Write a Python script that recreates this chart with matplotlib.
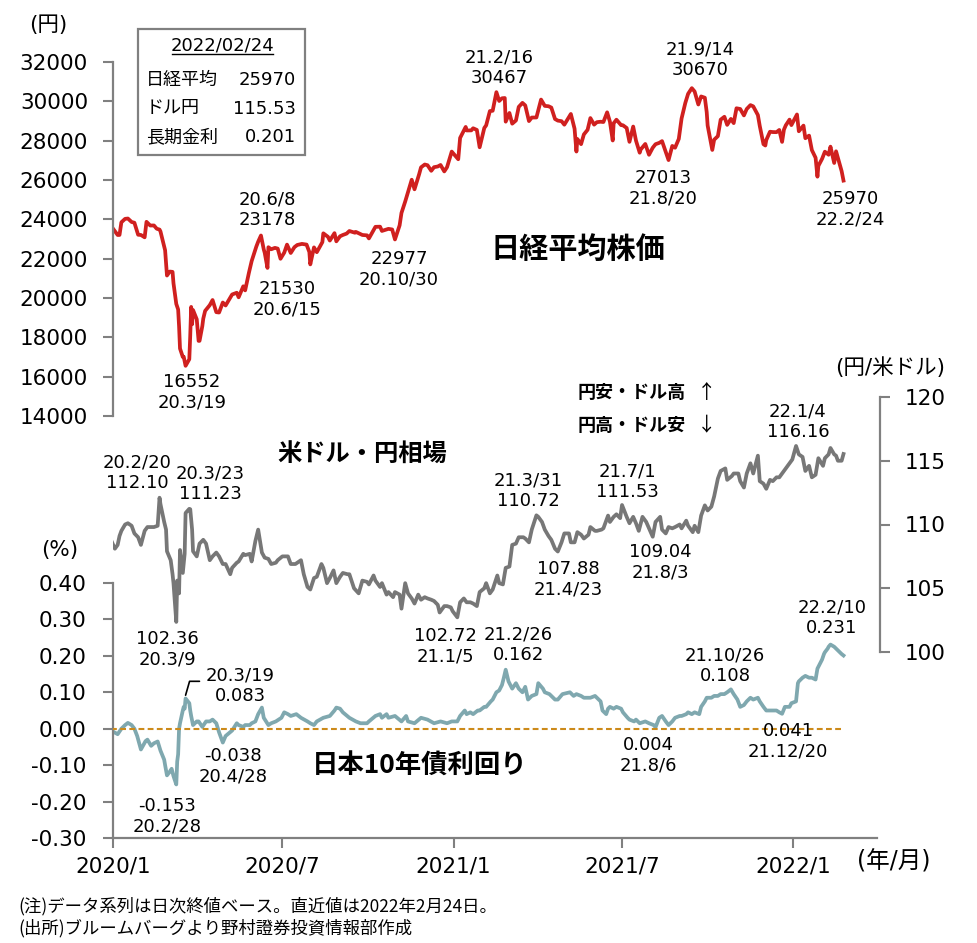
import numpy as np
import pandas as pd
import matplotlib
matplotlib.use("Agg")
import matplotlib.pyplot as plt
from matplotlib.patches import Rectangle
from matplotlib.lines import Line2D

plt.rcParams["font.family"] = ["DejaVu Sans", "Noto Sans CJK JP"]
JP = ["Noto Sans CJK JP", "DejaVu Sans"]

RED, GRAY, TEAL = "#D0201F", "#777777", "#7FA8AF"
ZERO, AXIS = "#CC8A1A", "#808080"

# ---------------- data ----------------
nikkei_dates = [
    "2019-12-30", "2020-01-06", "2020-01-08", "2020-01-10", "2020-01-14", "2020-01-17", "2020-01-21", "2020-01-24", "2020-01-28", "2020-01-31",
    "2020-02-04", "2020-02-06", "2020-02-10", "2020-02-14", "2020-02-17", "2020-02-20", "2020-02-21", "2020-02-25", "2020-02-26", "2020-02-28",
    "2020-03-02", "2020-03-05", "2020-03-06", "2020-03-09", "2020-03-11", "2020-03-12", "2020-03-13", "2020-03-16", "2020-03-17", "2020-03-19", "2020-03-23", "2020-03-24", "2020-03-25", "2020-03-26", "2020-03-27", "2020-03-31",
    "2020-04-02", "2020-04-03", "2020-04-06", "2020-04-07", "2020-04-09", "2020-04-14", "2020-04-17", "2020-04-21", "2020-04-24", "2020-04-28",
    "2020-05-01", "2020-05-08", "2020-05-13", "2020-05-15", "2020-05-20", "2020-05-22", "2020-05-26", "2020-05-29",
    "2020-06-03", "2020-06-05", "2020-06-08", "2020-06-11", "2020-06-12", "2020-06-15", "2020-06-16", "2020-06-19", "2020-06-23", "2020-06-26", "2020-06-29",
    "2020-07-03", "2020-07-06", "2020-07-10", "2020-07-14", "2020-07-17", "2020-07-22", "2020-07-27", "2020-07-30", "2020-07-31",
    "2020-08-04", "2020-08-07", "2020-08-13", "2020-08-14", "2020-08-19", "2020-08-21", "2020-08-26", "2020-08-28",
    "2020-09-01", "2020-09-04", "2020-09-08", "2020-09-11", "2020-09-17", "2020-09-18", "2020-09-25", "2020-09-30",
    "2020-10-02", "2020-10-09", "2020-10-14", "2020-10-16", "2020-10-23", "2020-10-27", "2020-10-30",
    "2020-11-04", "2020-11-06", "2020-11-10", "2020-11-13", "2020-11-17", "2020-11-20", "2020-11-25", "2020-11-27",
    "2020-12-01", "2020-12-04", "2020-12-08", "2020-12-11", "2020-12-15", "2020-12-18", "2020-12-22", "2020-12-25", "2020-12-30",
    "2021-01-06", "2021-01-08", "2021-01-14", "2021-01-15", "2021-01-20", "2021-01-22", "2021-01-26", "2021-01-29",
    "2021-02-03", "2021-02-05", "2021-02-09", "2021-02-12", "2021-02-16", "2021-02-19", "2021-02-22", "2021-02-25", "2021-02-26",
    "2021-03-02", "2021-03-05", "2021-03-09", "2021-03-12", "2021-03-16", "2021-03-19", "2021-03-23", "2021-03-26", "2021-03-31",
    "2021-04-05", "2021-04-09", "2021-04-13", "2021-04-16", "2021-04-20", "2021-04-23", "2021-04-27", "2021-04-30",
    "2021-05-07", "2021-05-11", "2021-05-13", "2021-05-14", "2021-05-18", "2021-05-21", "2021-05-25", "2021-05-28",
    "2021-06-01", "2021-06-04", "2021-06-08", "2021-06-11", "2021-06-15", "2021-06-18", "2021-06-21", "2021-06-22", "2021-06-25", "2021-06-30",
    "2021-07-02", "2021-07-06", "2021-07-09", "2021-07-13", "2021-07-16", "2021-07-20", "2021-07-21", "2021-07-26", "2021-07-30",
    "2021-08-03", "2021-08-06", "2021-08-10", "2021-08-13", "2021-08-17", "2021-08-20", "2021-08-24", "2021-08-27", "2021-08-31",
    "2021-09-03", "2021-09-07", "2021-09-10", "2021-09-14", "2021-09-17", "2021-09-21", "2021-09-24", "2021-09-28", "2021-09-30",
    "2021-10-01", "2021-10-06", "2021-10-08", "2021-10-12", "2021-10-15", "2021-10-19", "2021-10-22", "2021-10-26", "2021-10-29",
    "2021-11-01", "2021-11-05", "2021-11-09", "2021-11-12", "2021-11-16", "2021-11-19", "2021-11-24", "2021-11-26", "2021-11-30",
    "2021-12-02", "2021-12-03", "2021-12-07", "2021-12-10", "2021-12-14", "2021-12-17", "2021-12-20", "2021-12-22", "2021-12-24", "2021-12-28", "2021-12-30",
    "2022-01-05", "2022-01-07", "2022-01-12", "2022-01-14", "2022-01-18", "2022-01-21", "2022-01-25", "2022-01-27", "2022-01-28",
    "2022-02-01", "2022-02-04", "2022-02-08", "2022-02-10", "2022-02-14", "2022-02-16", "2022-02-18", "2022-02-22", "2022-02-24",
]
nikkei_values = [
    23657, 23204, 23205, 23850, 24025, 24041, 23865, 23827, 23216, 23205,
    23085, 23873, 23686, 23688, 23523, 23479, 23387, 22605, 22426, 21143,
    21344, 21329, 20750, 19699, 19416, 18560, 17431, 17002, 17011, 16552, 16888, 18092, 19546, 18665, 19389, 18917,
    17819, 17820, 18576, 18950, 19345, 19638, 19897, 19280, 19262, 19771,
    19619, 20179, 20267, 20037, 20595, 20388, 21271, 21877,
    22613, 22863, 23178, 22473, 22305, 21530, 22582, 22478, 22549, 22512, 21995,
    22306, 22714, 22290, 22587, 22696, 22751, 22716, 22339, 21710,
    22573, 22329, 22843, 23289, 23111, 22920, 23297, 22882,
    23138, 23205, 23274, 23406, 23319, 23360, 23204, 23185,
    23029, 23619, 23626, 23410, 23516, 23485, 22977,
    23695, 24325, 24905, 25385, 26014, 25527, 26297, 26644,
    26787, 26751, 26467, 26652, 26687, 26763, 26436, 26656, 27444,
    27056, 28139, 28698, 28519, 28523, 28631, 28546, 27663,
    28646, 28779, 29505, 29520, 30467, 30018, 30156, 30168, 28966,
    29408, 28864, 29027, 29717, 29921, 29792, 28996, 29176, 29179,
    30089, 29768, 29751, 29683, 29101, 29020, 28991, 28812,
    29357, 28608, 27448, 28084, 27824, 28317, 28553, 29149,
    28814, 28941, 28963, 28948, 29441, 28964, 28010, 28884, 29066, 28791,
    28783, 28643, 27940, 28718, 28003, 27388, 27548, 27833, 27283,
    27641, 27820, 27888, 27977, 27424, 27013, 27732, 27641, 28089,
    29128, 29916, 30381, 30670, 30500, 29839, 30248, 30183, 29453,
    28771, 27528, 28048, 28230, 29068, 29215, 28804, 29106, 28893,
    29647, 29611, 29285, 29610, 29808, 29745, 29302, 28751, 27822,
    27753, 28029, 28455, 28437, 28432, 28545, 27937, 28562, 28782, 29069, 28792,
    29332, 28479, 28765, 28124, 28257, 27522, 27131, 26170, 26717,
    27078, 27440, 27284, 27696, 26865, 27460, 27122, 26450, 25970,
]

usd_dates = [
    "2019-12-31", "2020-01-03", "2020-01-06", "2020-01-08", "2020-01-10", "2020-01-14", "2020-01-17", "2020-01-21", "2020-01-24", "2020-01-28", "2020-01-31",
    "2020-02-04", "2020-02-07", "2020-02-11", "2020-02-14", "2020-02-18", "2020-02-20", "2020-02-21", "2020-02-25", "2020-02-27", "2020-02-28",
    "2020-03-03", "2020-03-05", "2020-03-06", "2020-03-09", "2020-03-10", "2020-03-12", "2020-03-13", "2020-03-16", "2020-03-18", "2020-03-19", "2020-03-23", "2020-03-24", "2020-03-26", "2020-03-27", "2020-03-31",
    "2020-04-03", "2020-04-07", "2020-04-10", "2020-04-14", "2020-04-17", "2020-04-21", "2020-04-24", "2020-04-28",
    "2020-05-01", "2020-05-06", "2020-05-08", "2020-05-13", "2020-05-15", "2020-05-20", "2020-05-22", "2020-05-27", "2020-05-29",
    "2020-06-02", "2020-06-05", "2020-06-09", "2020-06-12", "2020-06-16", "2020-06-19", "2020-06-24", "2020-06-26",
    "2020-07-01", "2020-07-07", "2020-07-10", "2020-07-15", "2020-07-17", "2020-07-21", "2020-07-24", "2020-07-28", "2020-07-31",
    "2020-08-04", "2020-08-07", "2020-08-12", "2020-08-14", "2020-08-18", "2020-08-21", "2020-08-25", "2020-08-28",
    "2020-09-01", "2020-09-04", "2020-09-09", "2020-09-11", "2020-09-16", "2020-09-21", "2020-09-25", "2020-09-30",
    "2020-10-02", "2020-10-07", "2020-10-09", "2020-10-14", "2020-10-16", "2020-10-21", "2020-10-23", "2020-10-28", "2020-10-30",
    "2020-11-04", "2020-11-06", "2020-11-10", "2020-11-13", "2020-11-17", "2020-11-20", "2020-11-24", "2020-11-27",
    "2020-12-01", "2020-12-04", "2020-12-08", "2020-12-11", "2020-12-15", "2020-12-17", "2020-12-22", "2020-12-25", "2020-12-29", "2020-12-31",
    "2021-01-05", "2021-01-08", "2021-01-12", "2021-01-15", "2021-01-19", "2021-01-22", "2021-01-26", "2021-01-29",
    "2021-02-03", "2021-02-05", "2021-02-09", "2021-02-12", "2021-02-17", "2021-02-19", "2021-02-23", "2021-02-26",
    "2021-03-02", "2021-03-05", "2021-03-09", "2021-03-12", "2021-03-17", "2021-03-19", "2021-03-23", "2021-03-26", "2021-03-31",
    "2021-04-02", "2021-04-06", "2021-04-09", "2021-04-13", "2021-04-16", "2021-04-20", "2021-04-23", "2021-04-27", "2021-04-30",
    "2021-05-05", "2021-05-07", "2021-05-11", "2021-05-14", "2021-05-18", "2021-05-21", "2021-05-26", "2021-05-28",
    "2021-06-02", "2021-06-04", "2021-06-09", "2021-06-11", "2021-06-16", "2021-06-18", "2021-06-22", "2021-06-25", "2021-06-29",
    "2021-07-01", "2021-07-06", "2021-07-09", "2021-07-13", "2021-07-16", "2021-07-19", "2021-07-23", "2021-07-27", "2021-07-30",
    "2021-08-03", "2021-08-06", "2021-08-11", "2021-08-13", "2021-08-17", "2021-08-20", "2021-08-24", "2021-08-27",
    "2021-09-01", "2021-09-03", "2021-09-08", "2021-09-10", "2021-09-15", "2021-09-17", "2021-09-21", "2021-09-24", "2021-09-28",
    "2021-10-01", "2021-10-05", "2021-10-08", "2021-10-12", "2021-10-15", "2021-10-20", "2021-10-22", "2021-10-27", "2021-10-29",
    "2021-11-03", "2021-11-05", "2021-11-09", "2021-11-12", "2021-11-16", "2021-11-19", "2021-11-24", "2021-11-26", "2021-11-30",
    "2021-12-03", "2021-12-07", "2021-12-10", "2021-12-14", "2021-12-17", "2021-12-21", "2021-12-24", "2021-12-28", "2021-12-31",
    "2022-01-04", "2022-01-07", "2022-01-11", "2022-01-14", "2022-01-18", "2022-01-21", "2022-01-25", "2022-01-28",
    "2022-02-02", "2022-02-04", "2022-02-08", "2022-02-10", "2022-02-14", "2022-02-16", "2022-02-18", "2022-02-22", "2022-02-24",
]
usd_values = [
    108.6, 108.1, 108.4, 109.1, 109.5, 110.0, 110.1, 109.9, 109.3, 109.0, 108.4,
    109.5, 109.8, 109.8, 109.8, 109.9, 112.1, 111.6, 110.2, 109.6, 107.9,
    107.2, 106.1, 105.4, 102.36, 105.6, 104.6, 108.0, 106.2, 107.7, 110.9, 111.23, 111.2, 109.6, 107.9, 107.5,
    108.5, 108.8, 108.5, 107.2, 107.5, 107.8, 107.5, 106.9,
    106.9, 106.1, 106.6, 107.0, 107.1, 107.7, 107.6, 107.7, 107.1,
    108.7, 109.6, 107.8, 107.4, 107.3, 106.9, 107.0, 107.2,
    107.5, 107.5, 106.9, 106.9, 107.0, 107.2, 106.1, 105.1, 104.9,
    105.8, 105.9, 106.9, 106.6, 105.4, 105.8, 106.4, 105.4,
    105.9, 106.2, 106.1, 106.1, 105.0, 104.6, 105.6, 105.5,
    105.3, 106.0, 105.6, 105.1, 105.4, 104.5, 104.7, 104.3, 104.7,
    104.5, 103.4, 105.4, 104.6, 104.2, 103.8, 104.5, 104.1,
    104.3, 104.2, 104.1, 104.0, 103.7, 103.1, 103.6, 103.6, 103.5, 103.2,
    102.72, 103.9, 104.2, 103.9, 103.9, 103.8, 103.6, 104.7,
    105.0, 105.4, 104.6, 104.9, 106.0, 105.4, 105.3, 106.6,
    106.7, 108.4, 108.5, 109.0, 109.0, 108.9, 108.6, 109.6, 110.72,
    110.6, 110.2, 109.6, 109.1, 108.8, 108.1, 107.88, 108.6, 109.3,
    109.3, 108.6, 108.6, 109.4, 109.2, 108.9, 109.2, 109.8,
    109.5, 109.5, 109.6, 109.7, 110.7, 110.2, 110.6, 110.8, 110.5,
    111.53, 110.6, 110.1, 110.6, 110.1, 109.5, 110.6, 110.2, 109.7,
    109.04, 110.2, 110.6, 109.6, 109.3, 109.8, 109.7, 109.8,
    110.0, 109.7, 110.3, 109.9, 109.4, 109.9, 109.4, 110.7, 111.5,
    111.1, 111.4, 112.2, 113.6, 114.2, 114.4, 113.5, 113.8, 114.0,
    114.0, 113.4, 112.9, 114.0, 114.8, 114.0, 115.4, 113.4, 113.2,
    112.8, 113.5, 113.4, 113.7, 113.7, 114.1, 114.4, 114.8, 115.1,
    116.16, 115.5, 115.3, 114.2, 114.6, 113.7, 113.9, 115.2,
    114.6, 115.2, 115.5, 116.0, 115.5, 115.4, 115.0, 115.0, 115.53,
]

jgb_dates = [
    "2019-12-30", "2020-01-06", "2020-01-10", "2020-01-14", "2020-01-17", "2020-01-21", "2020-01-24", "2020-01-27", "2020-01-31",
    "2020-02-05", "2020-02-07", "2020-02-11", "2020-02-14", "2020-02-18", "2020-02-21", "2020-02-25", "2020-02-26", "2020-02-28",
    "2020-03-02", "2020-03-04", "2020-03-06", "2020-03-09", "2020-03-10", "2020-03-11", "2020-03-12", "2020-03-13", "2020-03-16", "2020-03-17", "2020-03-18", "2020-03-19", "2020-03-23", "2020-03-24", "2020-03-25", "2020-03-27", "2020-03-31",
    "2020-04-02", "2020-04-06", "2020-04-10", "2020-04-14", "2020-04-17", "2020-04-21", "2020-04-24", "2020-04-28",
    "2020-05-01", "2020-05-08", "2020-05-13", "2020-05-15", "2020-05-20", "2020-05-22", "2020-05-27", "2020-05-29",
    "2020-06-02", "2020-06-05", "2020-06-09", "2020-06-11", "2020-06-16", "2020-06-19", "2020-06-24", "2020-06-30",
    "2020-07-03", "2020-07-07", "2020-07-10", "2020-07-16", "2020-07-21", "2020-07-28", "2020-07-31",
    "2020-08-04", "2020-08-07", "2020-08-14", "2020-08-21", "2020-08-26", "2020-08-28",
    "2020-09-01", "2020-09-04", "2020-09-11", "2020-09-18", "2020-09-23", "2020-09-30",
    "2020-10-02", "2020-10-09", "2020-10-14", "2020-10-16", "2020-10-21", "2020-10-23", "2020-10-30",
    "2020-11-06", "2020-11-11", "2020-11-13", "2020-11-20", "2020-11-27",
    "2020-12-04", "2020-12-11", "2020-12-18", "2020-12-25", "2020-12-30",
    "2021-01-05", "2021-01-08", "2021-01-13", "2021-01-15", "2021-01-19", "2021-01-22", "2021-01-27", "2021-01-29",
    "2021-02-03", "2021-02-05", "2021-02-10", "2021-02-12", "2021-02-16", "2021-02-19", "2021-02-22", "2021-02-24", "2021-02-26",
    "2021-03-01", "2021-03-03", "2021-03-05", "2021-03-09", "2021-03-12", "2021-03-16", "2021-03-19", "2021-03-22", "2021-03-26", "2021-03-31",
    "2021-04-02", "2021-04-07", "2021-04-09", "2021-04-14", "2021-04-16", "2021-04-20", "2021-04-23", "2021-04-28",
    "2021-05-06", "2021-05-10", "2021-05-13", "2021-05-18", "2021-05-21", "2021-05-25", "2021-05-28",
    "2021-06-02", "2021-06-04", "2021-06-08", "2021-06-10", "2021-06-14", "2021-06-16", "2021-06-18", "2021-06-22", "2021-06-25", "2021-06-30",
    "2021-07-02", "2021-07-07", "2021-07-09", "2021-07-14", "2021-07-16", "2021-07-20", "2021-07-26", "2021-07-30",
    "2021-08-04", "2021-08-06", "2021-08-10", "2021-08-13", "2021-08-17", "2021-08-20", "2021-08-24", "2021-08-27",
    "2021-09-01", "2021-09-03", "2021-09-08", "2021-09-10", "2021-09-14", "2021-09-17", "2021-09-22", "2021-09-24", "2021-09-28", "2021-09-30",
    "2021-10-05", "2021-10-08", "2021-10-12", "2021-10-15", "2021-10-19", "2021-10-22", "2021-10-26", "2021-10-29",
    "2021-11-02", "2021-11-05", "2021-11-09", "2021-11-12", "2021-11-16", "2021-11-19", "2021-11-24", "2021-11-26", "2021-11-30",
    "2021-12-03", "2021-12-08", "2021-12-10", "2021-12-14", "2021-12-17", "2021-12-20", "2021-12-23", "2021-12-28", "2021-12-30",
    "2022-01-04", "2022-01-06", "2022-01-07", "2022-01-11", "2022-01-14", "2022-01-18", "2022-01-21", "2022-01-25", "2022-01-27", "2022-01-28",
    "2022-02-01", "2022-02-03", "2022-02-04", "2022-02-07", "2022-02-08", "2022-02-10", "2022-02-14", "2022-02-16", "2022-02-18", "2022-02-22", "2022-02-24",
]
jgb_values = [
    -0.005, -0.015, 0.0, 0.01, 0.016, 0.01, 0.0, -0.02, -0.057,
    -0.034, -0.03, -0.047, -0.04, -0.035, -0.06, -0.085, -0.10, -0.128,
    -0.118, -0.11, -0.13, -0.153, -0.09, -0.07, 0.0, 0.015, 0.05, 0.06, 0.055, 0.083, 0.07, 0.05, 0.035, 0.01, 0.02,
    0.02, 0.005, 0.02, 0.02, 0.025, 0.015, -0.01, -0.038,
    -0.02, -0.005, 0.015, 0.01, 0.005, 0.01, 0.01, 0.015,
    0.02, 0.04, 0.058, 0.03, 0.01, 0.015, 0.02, 0.03,
    0.045, 0.04, 0.035, 0.04, 0.03, 0.02, 0.015,
    0.01, 0.02, 0.03, 0.035, 0.05, 0.058,
    0.055, 0.045, 0.03, 0.02, 0.015, 0.015,
    0.02, 0.035, 0.04, 0.03, 0.04, 0.03, 0.035,
    0.02, 0.035, 0.02, 0.015, 0.03,
    0.025, 0.015, 0.02, 0.015, 0.02,
    0.02, 0.035, 0.05, 0.04, 0.045, 0.04, 0.05, 0.05,
    0.06, 0.06, 0.075, 0.08, 0.10, 0.105, 0.12, 0.14, 0.162,
    0.13, 0.12, 0.11, 0.125, 0.11, 0.10, 0.115, 0.08, 0.09, 0.095,
    0.125, 0.11, 0.10, 0.095, 0.09, 0.08, 0.08, 0.095,
    0.10, 0.09, 0.095, 0.09, 0.085, 0.085, 0.085,
    0.09, 0.085, 0.075, 0.05, 0.04, 0.055, 0.06, 0.055, 0.06, 0.055,
    0.045, 0.03, 0.025, 0.02, 0.025, 0.015, 0.02, 0.015,
    0.01, 0.004, 0.03, 0.035, 0.02, 0.01, 0.02, 0.03,
    0.035, 0.035, 0.04, 0.045, 0.04, 0.045, 0.04, 0.06, 0.075, 0.085,
    0.085, 0.09, 0.09, 0.095, 0.095, 0.10, 0.108, 0.095,
    0.08, 0.06, 0.065, 0.075, 0.085, 0.08, 0.085, 0.075, 0.06,
    0.05, 0.05, 0.05, 0.05, 0.045, 0.041, 0.06, 0.06, 0.07,
    0.075, 0.125, 0.13, 0.14, 0.145, 0.14, 0.14, 0.135, 0.165, 0.17,
    0.19, 0.205, 0.21, 0.22, 0.225, 0.231, 0.225, 0.22, 0.215, 0.205, 0.201,
]

x_ticks = ["2020-01-01", "2020-07-01", "2021-01-01", "2021-07-01", "2022-01-01"]
x_tick_labels = ["2020/1", "2020/7", "2021/1", "2021/7", "2022/1"]
nikkei_ticks = list(range(14000, 32001, 2000))
usd_ticks = [100, 105, 110, 115, 120]
jgb_ticks = [-0.30, -0.20, -0.10, 0.00, 0.10, 0.20, 0.30, 0.40]

assert len(nikkei_dates) == len(nikkei_values)
assert len(usd_dates) == len(usd_values)
assert len(jgb_dates) == len(jgb_values)
nk_x = pd.to_datetime(nikkei_dates)
fx_x = pd.to_datetime(usd_dates)
bd_x = pd.to_datetime(jgb_dates)

# ---------------- figure ----------------
W, H = 977, 943
fig = plt.figure(figsize=(W / 100, H / 100), dpi=100)


def ax_px(left, top, right, bottom):
    return fig.add_axes([left / W, 1 - bottom / H, (right - left) / W, (bottom - top) / H])


def ftext(x, y, s, **kw):
    kw.setdefault("ha", "center")
    kw.setdefault("va", "center")
    fig.text(x / W, 1 - y / H, s, **kw)


xlim = (pd.Timestamp("2020-01-01"), pd.Timestamp("2022-04-01"))
ax_nk = ax_px(113, 62, 877, 416)
ax_fx = ax_px(113, 397, 877, 652)
ax_bd = ax_px(113, 583, 877, 838)
for ax in (ax_nk, ax_fx, ax_bd):
    ax.set_facecolor("none")
    ax.set_xlim(*xlim)
    for sp in ax.spines.values():
        sp.set_visible(False)
        sp.set_color(AXIS)
        sp.set_linewidth(1.6)
    ax.tick_params(color=AXIS, width=1.5, length=7, labelsize=15.5, labelcolor="black")

LW = 2.7

# Nikkei
ax_nk.plot(nk_x, nikkei_values, color=RED, lw=LW, solid_joinstyle="round")
ax_nk.set_ylim(14000, 32000)
ax_nk.set_yticks(nikkei_ticks)
ax_nk.set_xticks([])
ax_nk.spines["left"].set_visible(True)
ax_nk.tick_params(axis="y", pad=11)

# USD/JPY
ax_fx.plot(fx_x, usd_values, color=GRAY, lw=LW, solid_joinstyle="round")
ax_fx.set_ylim(100, 120)
ax_fx.set_yticks(usd_ticks)
ax_fx.set_xticks([])
ax_fx.yaxis.tick_right()
ax_fx.spines["right"].set_visible(True)
ax_fx.spines["right"].set_position(("outward", 2))
ax_fx.tick_params(axis="y", pad=11)

# JGB 10y
ax_bd.plot(bd_x, jgb_values, color=TEAL, lw=LW, solid_joinstyle="round", zorder=2)
ax_bd.hlines(0, bd_x[0], bd_x[-1], colors=ZERO, lw=1.5, linestyles=(0, (2.8, 1.6)), zorder=3)
ax_bd.set_ylim(-0.30, 0.40)
ax_bd.set_yticks(jgb_ticks)
ax_bd.set_yticklabels([f"{v:.2f}" for v in jgb_ticks])
ax_bd.set_xticks(pd.to_datetime(x_ticks))
ax_bd.set_xticklabels(x_tick_labels)
ax_bd.spines["left"].set_visible(True)
ax_bd.spines["bottom"].set_visible(True)
ax_bd.tick_params(axis="y", pad=12)
ax_bd.tick_params(axis="x", pad=6)

# leader for the 20.3/19 label
ax_bd.annotate("", xy=(pd.Timestamp("2020-03-19"), 0.092), xytext=(10, 10),
               textcoords="offset points",
               arrowprops=dict(arrowstyle="-", color="black", lw=1.2, shrinkA=0, shrinkB=0,
                               connectionstyle="angle,angleA=0,angleB=74"))

# ---------------- labels ----------------
point_labels = [
    ("16552\n20.3/19", 192, 392), ("20.6/8\n23178", 267, 210), ("21530\n20.6/15", 287, 299),
    ("22977\n20.10/30", 399, 269), ("21.2/16\n30467", 499, 68), ("21.9/14\n30670", 700, 60),
    ("27013\n21.8/20", 663, 188), ("25970\n22.2/24", 850, 209),
    ("20.2/20\n112.10", 137, 473), ("20.3/23\n111.23", 210, 484), ("102.36\n20.3/9", 167, 649),
    ("102.72\n21.1/5", 445, 646), ("21.3/31\n110.72", 528, 491), ("107.88\n21.4/23", 568, 579),
    ("21.7/1\n111.53", 627, 482), ("109.04\n21.8/3", 660, 562), ("22.1/4\n116.16", 798, 422),
    ("-0.153\n20.2/28", 167, 816), ("20.3/19\n0.083", 240, 686), ("-0.038\n20.4/28", 233, 766),
    ("21.2/26\n0.162", 518, 645), ("0.004\n21.8/6", 648, 755), ("21.10/26\n0.108", 725, 666),
    ("0.041\n21.12/20", 788, 741), ("22.2/10\n0.231", 832, 618),
]
for s, x, y in point_labels:
    ftext(x, y, s, fontsize=13, linespacing=1.15, zorder=5)

ftext(578, 249, "日経平均株価", fontsize=21, fontweight="bold", family=JP)
ftext(362, 455, "米ドル・円相場", fontsize=17.5, fontweight="bold", family=JP)
ftext(420, 766, "日本10年債利回り", fontsize=19, fontweight="bold", family=JP)
ftext(578, 392, "円安・ドル高", fontsize=13, fontweight="bold", family=JP, ha="left")
ftext(578, 425, "円高・ドル安", fontsize=13, fontweight="bold", family=JP, ha="left")
ftext(697, 392, "↑", fontsize=14, family=JP, ha="left")
ftext(697, 425, "↓", fontsize=14, family=JP, ha="left")

ftext(48, 25, "(円)", fontsize=15.5)
ftext(60, 550, "(%)", fontsize=15.5)
ftext(890, 368, "(円/米ドル)", fontsize=15.5)
ftext(894, 862, "(年/月)", fontsize=17)

ftext(18, 906, "(注)データ系列は日次終値ベース。直近値は2022年2月24日。", fontsize=12.5, family=JP, ha="left")
ftext(18, 928, "(出所)ブルームバーグより野村證券投資情報部作成", fontsize=12.5, family=JP, ha="left")

# latest-value box
fig.add_artist(Rectangle((138 / W, 1 - 155 / H), (305 - 138) / W, (155 - 29) / H,
                         transform=fig.transFigure, fill=False, ec=AXIS, lw=1.6))
ftext(222, 45, "2022/02/24", fontsize=13)
fig.add_artist(Line2D([172 / W, 273 / W], [1 - 54 / H, 1 - 54 / H], transform=fig.transFigure,
                      color="black", lw=1))
box_rows = [("日経平均", f"{nikkei_values[-1]:.0f}"), ("ドル円", f"{usd_values[-1]:.2f}"),
            ("長期金利", f"{jgb_values[-1]:.3f}")]
for i, (name, val) in enumerate(box_rows):
    y = 80 + i * 28.5
    ftext(146, y, name, fontsize=13, family=JP, ha="left")
    ftext(296, y, val, fontsize=13, ha="right")

fig.savefig("out.png", dpi=100)
